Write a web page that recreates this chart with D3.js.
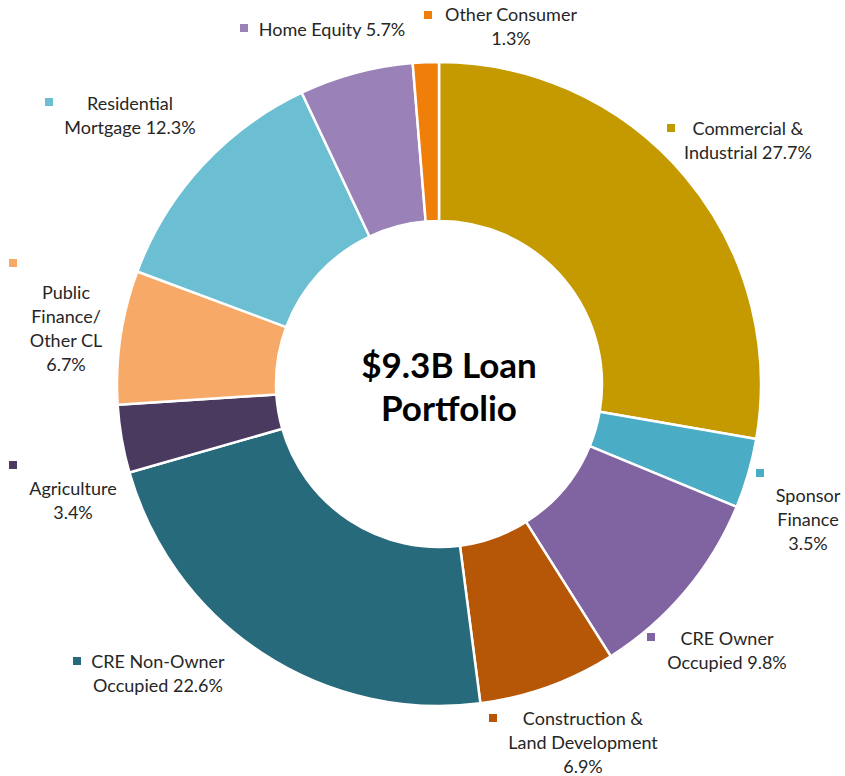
<!DOCTYPE html>
<html>
<head>
<meta charset="utf-8">
<script src="https://cdn.jsdelivr.net/npm/d3@7"></script>
<style>
  html, body { margin: 0; padding: 0; background: #fff; }
  svg { display: block; }
</style>
</head>
<body>
<svg id="chart" width="845" height="776"></svg>
<script>
// Loan portfolio composition, clockwise from 12 o'clock
const categories = [
  "Commercial & Industrial",
  "Sponsor Finance",
  "CRE Owner Occupied",
  "Construction & Land Development",
  "CRE Non-Owner Occupied",
  "Agriculture",
  "Public Finance/ Other CL",
  "Residential Mortgage",
  "Home Equity",
  "Other Consumer"
];
const shares = [27.7, 3.5, 9.8, 6.9, 22.6, 3.4, 6.7, 12.3, 5.7, 1.3];
const colors = [
  "#c59a00", "#4bacc6", "#8064a2", "#b65708", "#276a7c",
  "#4a3a60", "#f7a968", "#6cbed2", "#9a82b8", "#f07f09"
];
// Label text lines (the last number on each is the slice share)
const labelLines = [
  ["Commercial &", "Industrial 27.7%"],
  ["Sponsor", "Finance", "3.5%"],
  ["CRE Owner", "Occupied 9.8%"],
  ["Construction &", "Land Development", "6.9%"],
  ["CRE Non-Owner", "Occupied 22.6%"],
  ["Agriculture", "3.4%"],
  ["Public", "Finance/", "Other CL", "6.7%"],
  ["Residential", "Mortgage 12.3%"],
  ["Home Equity 5.7%"],
  ["Other Consumer", "1.3%"]
];
const centerTitle = ["$9.3B Loan", "Portfolio"];

// Label layout: legend key square position and text block centre / first baseline
const labelLayout = [
  { kx: 671, ky: 128, tx: 748, ty: 135 },
  { kx: 760, ky: 473, tx: 808, ty: 502 },
  { kx: 651, ky: 637, tx: 727, ty: 645 },
  { kx: 493, ky: 718, tx: 583, ty: 725 },
  { kx: 77,  ky: 661, tx: 158, ty: 668 },
  { kx: 13,  ky: 465, tx: 73,  ty: 495 },
  { kx: 13,  ky: 263, tx: 66,  ty: 299 },
  { kx: 49,  ky: 102, tx: 130, ty: 110 },
  { kx: 244, ky: 28,  tx: 332, ty: 36 },
  { kx: 428, ky: 15,  tx: 511, ty: 21 }
];

const svg = d3.select("#chart");
const cx = 439, cy = 384, outerR = 322, innerR = 163;
const font = "Lato, 'Open Sans', sans-serif";

const pie = d3.pie().sort(null).value(d => d)(shares);
const arc = d3.arc().innerRadius(innerR).outerRadius(outerR);

const g = svg.append("g").attr("transform", `translate(${cx},${cy})`);
g.selectAll("path.slice")
  .data(pie)
  .join("path")
  .attr("class", "slice")
  .attr("d", arc)
  .attr("fill", (d, i) => colors[i])
  .attr("stroke", "#fff")
  .attr("stroke-width", 2.5)
  .attr("stroke-linejoin", "round");

// Outside labels with a small colour key
const labels = svg.append("g").attr("class", "labels");
categories.forEach((name, i) => {
  const L = labelLayout[i];
  labels.append("rect")
    .attr("x", L.kx - 4).attr("y", L.ky - 4)
    .attr("width", 8).attr("height", 8)
    .attr("fill", colors[i]);
  const t = labels.append("text")
    .attr("x", L.tx).attr("y", L.ty)
    .attr("text-anchor", "middle")
    .attr("font-family", font)
    .attr("font-size", 18)
    .attr("fill", "#262626");
  labelLines[i].forEach((line, j) => {
    t.append("tspan").attr("x", L.tx).attr("dy", j === 0 ? 0 : 24).text(line);
  });
});

// Centre title
const title = svg.append("text")
  .attr("x", cx + 10).attr("y", cy - 6)
  .attr("text-anchor", "middle")
  .attr("font-family", font)
  .attr("font-weight", "bold")
  .attr("font-size", 35)
  .attr("fill", "#000");
centerTitle.forEach((line, j) => {
  title.append("tspan").attr("x", cx + 10).attr("dy", j === 0 ? 0 : 43).text(line);
});
</script>
</body>
</html>
